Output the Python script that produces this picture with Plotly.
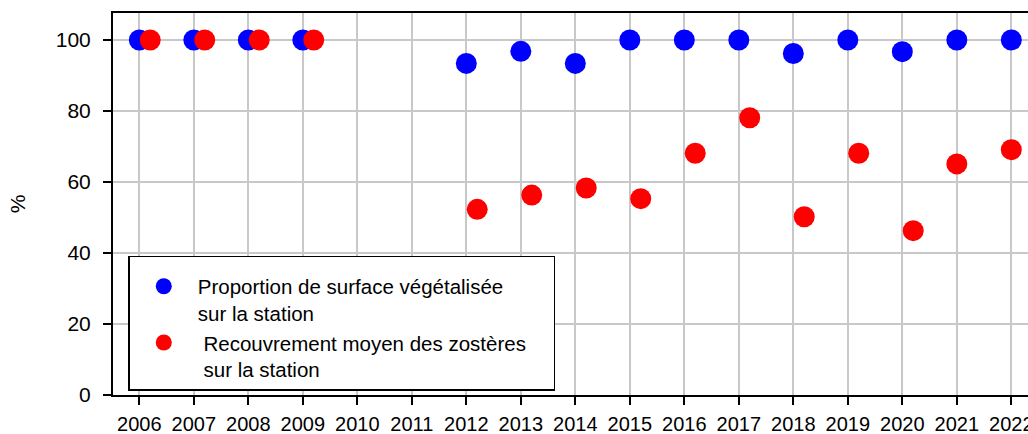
import plotly.graph_objects as go

years_blue = [2006, 2007, 2008, 2009, 2012, 2013, 2014, 2015, 2016, 2017, 2018, 2019, 2020, 2021, 2022]
vegetalisee = [100, 100, 100, 100, 93.4, 96.8, 93.4, 100, 100, 100, 96.2, 100, 96.7, 100, 100]

years_red = [2006, 2007, 2008, 2009, 2012, 2013, 2014, 2015, 2016, 2017, 2018, 2019, 2020, 2021, 2022]
recouvrement = [100, 100, 100, 100, 52.3, 56.3, 58.3, 55.3, 68.1, 78.1, 50.2, 68.1, 46.3, 65.1, 69.1]
red_shift = [0.2, 0.2, 0.2, 0.2, 0.2, 0.2, 0.2, 0.2, 0.2, 0.2, 0.2, 0.2, 0.2, 0.0, 0.0]

tick_years = list(range(2006, 2023))
y_ticks = [0, 20, 40, 60, 80, 100]

FONT = "Liberation Sans, Arial, sans-serif"
NB = "\u00a0"

fig = go.Figure()
fig.add_trace(go.Scatter(
    x=years_blue, y=vegetalisee, mode="markers",
    marker=dict(color="#0000ff", size=21),
    name="Proportion de surface végétalisée<br>sur la station",
    cliponaxis=False,
))
fig.add_trace(go.Scatter(
    x=[y + s for y, s in zip(years_red, red_shift)], y=recouvrement, mode="markers",
    marker=dict(color="#ff0000", size=21),
    name=NB + "Recouvrement moyen des zostères" + NB * 4 + "<br>" + NB + "sur la station",
    cliponaxis=False,
))

fig.update_layout(
    width=1028, height=434,
    margin=dict(l=113, r=0, t=13, b=39),
    paper_bgcolor="white", plot_bgcolor="white",
    font=dict(family=FONT, size=20, color="black"),
    showlegend=True,
    legend=dict(
        x=0.0167, y=0.011, xanchor="left", yanchor="bottom",
        bgcolor="white", bordercolor="black", borderwidth=1.5,
        font=dict(family=FONT, size=20.5, color="black"),
        valign="top", itemsizing="trace", itemwidth=58, tracegroupgap=0,
        title=dict(text=NB, font=dict(size=7)),
    ),
    xaxis=dict(
        range=[2005.517, 2022.306], tickmode="array", tickvals=tick_years,
        ticktext=[str(t) for t in tick_years],
        showgrid=True, gridcolor="#c8c8c8", gridwidth=1.5,
        showline=True, linecolor="black", linewidth=2, mirror=True,
        ticks="outside", ticklen=8, tickwidth=2, tickcolor="black",
        ticklabelstandoff=2, ticklabeloverflow="allow",
        zeroline=False, automargin=False,
        tickfont=dict(size=20),
    ),
    yaxis=dict(
        range=[0, 107.6], tickmode="array", tickvals=y_ticks,
        showgrid=True, gridcolor="#c8c8c8", gridwidth=1.5,
        showline=True, linecolor="black", linewidth=2, mirror=False,
        ticks="outside", ticklen=8, tickwidth=2, tickcolor="black",
        ticklabelstandoff=8, zeroline=False, automargin=False,
        tickfont=dict(size=21),
        title=dict(text="%", font=dict(size=21), standoff=24),
    ),
)

fig.write_html(
    "out.html",
    config={"displayModeBar": False},
    post_script="document.body.style.margin='0';document.body.style.overflow='hidden';",
)
